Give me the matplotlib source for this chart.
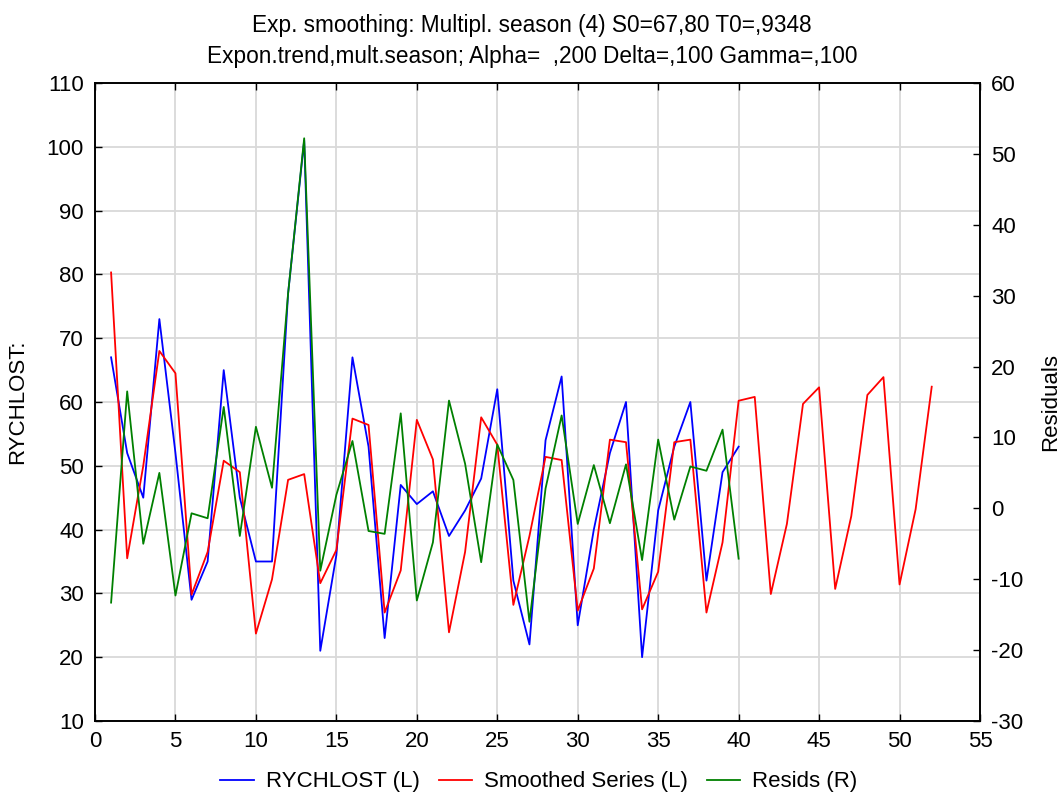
import matplotlib
matplotlib.use("Agg")
import matplotlib.pyplot as plt

plt.rcParams['font.family'] = ['Liberation Sans', 'DejaVu Sans']
plt.rcParams['axes.unicode_minus'] = False

# Observed series (periods 1..40)
rychlost = [67, 52, 45, 73, 52, 29, 35, 65, 45, 35,
            35, 77, 101, 21, 36, 67, 53, 23, 47, 44,
            46, 39, 43, 48, 62, 32, 22, 54, 64, 25,
            40, 52, 60, 20, 43, 53, 60, 32, 49, 53]

# Smoothed series incl. forecast (periods 1..52)
smoothed = [80.3, 35.5, 50.0, 68.0, 64.5, 29.8, 36.5, 50.8, 49.0, 23.7,
            32.2, 47.8, 48.7, 31.6, 36.8, 57.4, 56.4, 27.0, 33.6, 57.2,
            51.0, 23.9, 36.5, 57.6, 53.3, 28.2, 39.0, 51.4, 50.9, 27.3,
            33.9, 54.1, 53.7, 27.5, 33.4, 53.7, 54.1, 27.0, 38.0, 60.2,
            60.8, 29.9, 40.9, 59.7, 62.3, 30.7, 42.1, 61.1, 63.9, 31.4,
            43.2, 62.4]

# Residuals (right axis, periods 1..40)
resids = [-13.3, 16.5, -5.0, 5.0, -12.3, -0.7, -1.4, 14.3, -3.9, 11.5,
          2.9, 30.3, 52.2, -8.8, 1.9, 9.5, -3.2, -3.6, 13.4, -13.0,
          -4.8, 15.2, 6.3, -7.6, 9.0, 4.0, -16.0, 2.8, 13.1, -2.2,
          6.1, -2.1, 6.2, -7.3, 9.7, -1.6, 5.9, 5.3, 11.1, -7.1]

t_obs = list(range(1, len(rychlost) + 1))
t_smooth = list(range(1, len(smoothed) + 1))
t_res = list(range(1, len(resids) + 1))

title_1 = "Exp. smoothing: Multipl. season (4) S0=67,80 T0=,9348"
title_2 = "Expon.trend,mult.season; Alpha=  ,200 Delta=,100 Gamma=,100"

W, H = 1064, 796
fig = plt.figure(figsize=(W / 100, H / 100), dpi=100)
ax = fig.add_axes([95 / W, 1 - 721 / H, 885 / W, 638 / H])
ax2 = ax.twinx()

lw = 1.3
l1, = ax.plot(t_obs, rychlost, color='#0000ff', lw=lw, label='RYCHLOST (L)')
l2, = ax.plot(t_smooth, smoothed, color='#ff0000', lw=lw, label='Smoothed Series (L)')
l3, = ax2.plot(t_res, resids, color='#008000', lw=lw, label='Resids (R)')

ax.set_xlim(0, 55)
ax.set_ylim(10, 110)
ax2.set_ylim(-30, 60)
ax.set_xticks(range(0, 56, 5))
ax.set_yticks(range(10, 111, 10))
ax2.set_yticks(range(-30, 61, 10))

ax.grid(True, color='#d9d9d9', lw=1.3)
ax.set_axisbelow(True)

fs = 16
for a in (ax, ax2):
    a.tick_params(direction='in', length=5, width=1, labelsize=fs,
                  top=True, colors='black')
    for s in a.spines.values():
        s.set_linewidth(1.2)
ax.tick_params(axis='x', pad=7)
ax.tick_params(axis='y', pad=8)
ax2.tick_params(axis='y', pad=8)

ax.set_ylabel('RYCHLOST:', fontsize=fs)
ax.yaxis.set_label_coords(-67 / 885, 0.5)
ax2.set_ylabel('Residuals', fontsize=fs)
ax2.yaxis.set_label_coords(1 + 60 / 885, 0.5)

fig.text(0.5, 1 - 32 / H, title_1, ha='center', va='baseline', fontsize=16.3)
fig.text(0.5, 1 - 63 / H, title_2, ha='center', va='baseline', fontsize=16.3)

fig.legend(handles=[l1, l2, l3], loc='center', ncol=3, frameon=False,
           fontsize=fs, bbox_to_anchor=(539 / W, 1 - 782 / H),
           handlelength=1.5, handletextpad=0.55, columnspacing=0.85,
           borderpad=0.2)

fig.savefig('out.png', dpi=100)
